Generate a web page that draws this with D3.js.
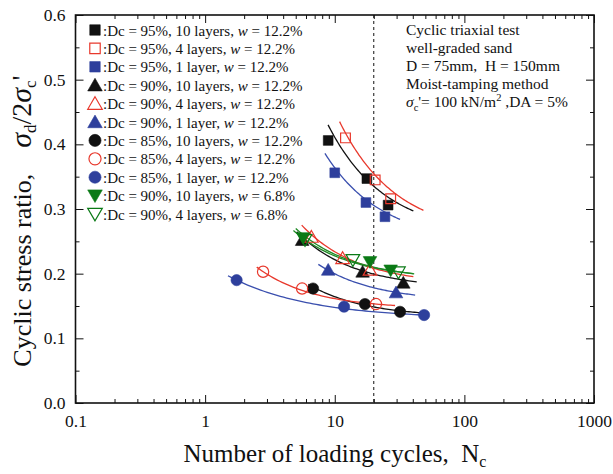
<!DOCTYPE html>
<html>
<head>
<meta charset="utf-8">
<script src="https://cdn.jsdelivr.net/npm/d3@7/dist/d3.min.js"></script>
<style>
  html, body { margin: 0; padding: 0; background: #fff; }
  svg { display: block; }
  text { font-family: "Liberation Serif", "Times New Roman", serif; fill: #111; }
</style>
</head>
<body>
<svg id="chart" width="613" height="474"></svg>
<script>
// Test series (legend order)
const seriesLabels = [
  ["95%", "10 layers", "12.2%"],
  ["95%", "4 layers", "12.2%"],
  ["95%", "1 layer", "12.2%"],
  ["90%", "10 layers", "12.2%"],
  ["90%", "4 layers", "12.2%"],
  ["90%", "1 layer", "12.2%"],
  ["85%", "10 layers", "12.2%"],
  ["85%", "4 layers", "12.2%"],
  ["85%", "1 layer", "12.2%"],
  ["90%", "10 layers", "6.8%"],
  ["90%", "4 layers", "6.8%"]
];

// Number of loading cycles to reach DA = 5%
const cyclesN = [
  [8.9, 17.7, 25.8],
  [12.1, 20.5, 27.0],
  [10.0, 17.4, 24.4],
  [5.6, 16.4, 33.8],
  [6.6, 11.5, 18.7],
  [8.9, 29.7],
  [6.8, 17.1, 31.9],
  [2.8, 5.6, 20.8],
  [1.75, 11.8, 48.9],
  [5.7, 18.7, 27.0],
  [5.9, 13.8, 31.0]
];

// Cyclic stress ratio sigma_d / 2 sigma_c'
const stressRatio = [
  [0.406, 0.347, 0.306],
  [0.410, 0.345, 0.316],
  [0.356, 0.310, 0.288],
  [0.252, 0.203, 0.186],
  [0.257, 0.224, 0.206],
  [0.206, 0.171],
  [0.177, 0.153, 0.141],
  [0.203, 0.177, 0.153],
  [0.190, 0.149, 0.136],
  [0.255, 0.218, 0.205],
  [0.252, 0.221, 0.202]
];

// Trend curves: ratio = fitC + fitK * N^(-fitP), drawn over fitSpan
const fitC = [0.2595, 0.258, 0.2475, 0.177, 0.1826, 0.1566, 0.1326, 0.1452, 0.1302, 0.1911, 0.190];
const fitK = [1.515, 1.93, 1.163, 0.447, 0.514, 0.432, 0.318, 0.1623, 0.0885, 0.3636, 0.40];
const fitP = [1, 1, 1, 1, 1, 1, 1, 1, 0.7, 1, 1];
const fitSpan = [
  [8.88, 40.4], [10.9, 48.3], [8.4, 31.9],
  [5.09, 42.9], [5.56, 40.4], [7.47, 41.7],
  [6.25, 45.5], [2.5, 29.2], [1.5, 49],
  [4.8, 40.4], [5.0, 41]
];

const xTickValues = [0.1, 1, 10, 100, 1000];
const xTickLabels = ["0.1", "1", "10", "100", "1000"];
const yTickValues = [0, 0.1, 0.2, 0.3, 0.4, 0.5, 0.6];
const referenceCycles = 20;

const annotationLines = [
  "Cyclic triaxial test",
  "well-graded sand",
  "D = 75mm,\u2002H = 150mm",
  "Moist-tamping method"
];

// ---- styling per series ----
const BLACK = "#111111", RED = "#e8382c", BLUE = "#2e3f9c", GREEN = "#0b7a16";
const lineColors = [BLACK, RED, "#3a4fae", BLACK, RED, "#3a4fae", BLACK, RED, "#3a4fae", "#1f8a25", "#1f8a25"];
const markColors = [BLACK, RED, BLUE, BLACK, RED, BLUE, BLACK, RED, BLUE, GREEN, GREEN];
const markFilled = [true, false, true, true, false, true, true, false, true, true, false];
const markShape  = ["square", "square", "square", "up", "up", "up", "circle", "circle", "circle", "down", "down"];

const svg = d3.select("#chart");
const plot = { left: 75.5, right: 594, top: 15, bottom: 403 };

const x = d3.scaleLog().domain([0.1, 1000]).range([plot.left, plot.right]);
const y = d3.scaleLinear().domain([0, 0.6]).range([plot.bottom, plot.top]);

// minor tick values
const xMinor = [];
for (let e = -1; e < 3; e++) for (let m = 2; m <= 9; m++) xMinor.push(m * Math.pow(10, e));
const yMinor = d3.range(0.05, 0.6, 0.1);

function styleAxis(g) {
  g.select(".domain").remove();
  g.selectAll(".tick line").attr("stroke", "#111").attr("stroke-width", 1);
}

// bottom axis with labels
svg.append("g")
  .attr("transform", `translate(0,${plot.bottom})`)
  .call(d3.axisBottom(x).tickValues(xTickValues).tickFormat((d, i) => xTickLabels[i]).tickSize(-8).tickPadding(12))
  .call(styleAxis)
  .call(g => g.selectAll("text").attr("font-size", 17.5).attr("font-family", "Liberation Serif").attr("fill", "#111"));
svg.append("g")
  .attr("transform", `translate(0,${plot.bottom})`)
  .call(d3.axisBottom(x).tickValues(xMinor).tickFormat("").tickSize(-4))
  .call(styleAxis);
// top axis
svg.append("g")
  .attr("transform", `translate(0,${plot.top})`)
  .call(d3.axisTop(x).tickValues(xTickValues).tickFormat("").tickSize(-8))
  .call(styleAxis);
svg.append("g")
  .attr("transform", `translate(0,${plot.top})`)
  .call(d3.axisTop(x).tickValues(xMinor).tickFormat("").tickSize(-4))
  .call(styleAxis);

// left axis with labels
svg.append("g")
  .attr("transform", `translate(${plot.left},0)`)
  .call(d3.axisLeft(y).tickValues(yTickValues).tickFormat(d3.format(".1f")).tickSize(-8).tickPadding(10))
  .call(styleAxis)
  .call(g => g.selectAll("text").attr("font-size", 17.5).attr("font-family", "Liberation Serif").attr("fill", "#111"));
svg.append("g")
  .attr("transform", `translate(${plot.left},0)`)
  .call(d3.axisLeft(y).tickValues(yMinor).tickFormat("").tickSize(-4))
  .call(styleAxis);
// right axis
svg.append("g")
  .attr("transform", `translate(${plot.right},0)`)
  .call(d3.axisRight(y).tickValues(yTickValues).tickFormat("").tickSize(-8))
  .call(styleAxis);
svg.append("g")
  .attr("transform", `translate(${plot.right},0)`)
  .call(d3.axisRight(y).tickValues(yMinor).tickFormat("").tickSize(-4))
  .call(styleAxis);

// frame
svg.append("rect")
  .attr("x", plot.left).attr("y", plot.top)
  .attr("width", plot.right - plot.left).attr("height", plot.bottom - plot.top)
  .attr("fill", "none").attr("stroke", "#111").attr("stroke-width", 1.6);

// reference line at N = 20
svg.append("line")
  .attr("x1", x(referenceCycles)).attr("x2", x(referenceCycles))
  .attr("y1", plot.top).attr("y2", plot.bottom)
  .attr("stroke", "#111").attr("stroke-width", 1).attr("stroke-dasharray", "3,3");

// trend curves
const curve = d3.line().x(d => x(d[0])).y(d => y(d[1])).curve(d3.curveLinear);
seriesLabels.forEach((s, i) => {
  const [n0, n1] = fitSpan[i];
  const pts = d3.range(0, 61).map(j => {
    const n = n0 * Math.pow(n1 / n0, j / 60);
    return [n, fitC[i] + fitK[i] * Math.pow(n, -fitP[i])];
  });
  svg.append("path")
    .attr("d", curve(pts))
    .attr("fill", "none")
    .attr("stroke", lineColors[i])
    .attr("stroke-width", 1.3);
});

// marker drawing
const symbolArea = { square: 95, circle: 100, up: 80, down: 80 };
function marker(g, i, cx, cy, scale = 1) {
  const shape = markShape[i];
  const type = shape === "square" ? d3.symbolSquare : shape === "circle" ? d3.symbolCircle : d3.symbolTriangle;
  const path = d3.symbol().type(type).size(symbolArea[shape] * scale)();
  const rot = shape === "down" ? 180 : 0;
  const dy = shape === "up" ? 1.5 : shape === "down" ? -1.5 : 0;
  g.append("path")
    .attr("d", path)
    .attr("transform", `translate(${cx},${cy + dy}) rotate(${rot})`)
    .attr("fill", markFilled[i] ? markColors[i] : "none")
    .attr("stroke", markColors[i])
    .attr("stroke-width", markFilled[i] ? 0.6 : 1.2);
}

const marks = svg.append("g");
seriesLabels.forEach((s, i) => {
  cyclesN[i].forEach((n, j) => marker(marks, i, x(n), y(stressRatio[i][j])));
});

// legend
const legend = svg.append("g");
seriesLabels.forEach((s, i) => {
  const ly = 30 + i * 18.4;
  marker(legend, i, 95, ly, 1.15);
  const t = legend.append("text")
    .attr("x", 103).attr("y", ly + 5.5)
    .attr("font-size", 15);
  t.append("tspan").text(`:Dc = ${s[0]}, ${s[1]}, `);
  t.append("tspan").attr("font-style", "italic").text("w");
  t.append("tspan").text(` = ${s[2]}`);
});

// test conditions
const note = svg.append("g");
annotationLines.forEach((line, i) => {
  note.append("text").attr("x", 406).attr("y", 35 + i * 18)
    .attr("font-size", 15.5).text(line);
});
const last = note.append("text").attr("x", 406).attr("y", 35 + 4 * 18).attr("font-size", 15.5);
last.append("tspan").attr("font-style", "italic").text("\u03c3");
last.append("tspan").attr("font-size", 10.5).attr("dy", 4).text("c");
last.append("tspan").attr("dy", -4).text("'= 100 kN/m");
last.append("tspan").attr("font-size", 10.5).attr("dy", -6).text("2");
last.append("tspan").attr("dy", 6).text(" ,DA = 5%");

// axis titles
const xt = svg.append("text")
  .attr("x", 335).attr("y", 462)
  .attr("text-anchor", "middle")
  .attr("font-size", 25);
xt.append("tspan").text("Number of loading cycles,\u2002N");
xt.append("tspan").attr("font-size", 16).attr("dy", 5).text("c");

const yt = svg.append("text")
  .attr("transform", "translate(31,221) rotate(-90)")
  .attr("text-anchor", "middle")
  .attr("font-size", 26);
yt.append("tspan").text("Cyclic stress ratio,\u2003");
yt.append("tspan").attr("font-style", "italic").attr("font-size", 30).text("\u03c3");
yt.append("tspan").attr("font-size", 17).attr("dy", 5).text("d");
yt.append("tspan").attr("dy", -5).attr("font-size", 28).text("/2");
yt.append("tspan").attr("font-style", "italic").attr("font-size", 30).text("\u03c3");
yt.append("tspan").attr("font-size", 17).attr("dy", 5).text("c");
yt.append("tspan").attr("dy", -5).attr("font-size", 28).text("'");
</script>
</body>
</html>
